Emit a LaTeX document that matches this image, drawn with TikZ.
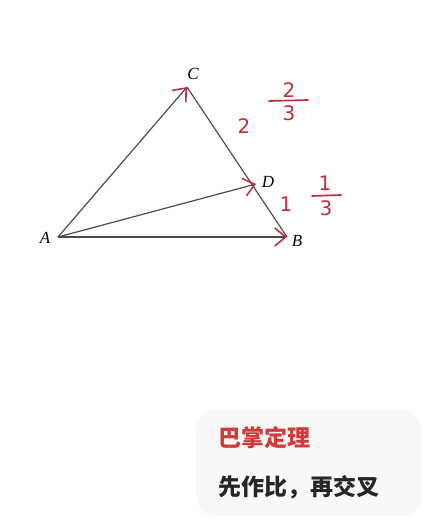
\documentclass[tikz,border=0pt]{standalone}
\usepackage{fontspec}
\setmainfont{Liberation Serif}
\setsansfont{DejaVu Sans}
\newfontfamily\cjk{Noto Sans CJK SC}
\usetikzlibrary{arrows.meta}
\definecolor{penred}{HTML}{C0303A}
\definecolor{titlered}{HTML}{D03A3A}
\definecolor{boxgray}{HTML}{F7F8F7}
\tikzset{
  edge/.style = {draw=black!70, line width=1.2pt},
  vec/.style  = {edge, -{Straight Barb[color=penred, length=11pt, width=18pt, line width=1.6pt]}},
  vlabel/.style = {font=\itshape\fontsize{17}{17}\selectfont, inner sep=0pt},
  hand/.style = {text=penred, font=\fontsize{20}{20}\selectfont\sffamily, inner sep=0pt},
  fracbar/.style = {draw=penred, line width=1.7pt, line cap=round},
}
\begin{document}
\begin{tikzpicture}[x=1pt, y=-1pt]
  \useasboundingbox (0,0) rectangle (424,524);
  % triangle points
  \coordinate (A) at (58,237);
  \coordinate (B) at (287,237);
  \coordinate (C) at (187,87);
  \coordinate (D) at (256,184);
  \draw[edge] (C) -- (B);
  \draw[vec] (A) -- (C);
  \draw[vec] (A) -- (D);
  \draw[vec] (A) -- (B);
  % vertex letters
  \node[vlabel] (labA) at (45,238) {A};
  \node[vlabel] (labB) at (297,241) {B};
  \node[vlabel] (labC) at (193,74) {C};
  \node[vlabel] (labD) at (268,182) {D};
  % handwritten ratios
  \node[hand] (two) at (244,126) {2};
  \node[hand] (one) at (286,204) {1};
  \node[hand] (num2) at (289,90) {2};
  \draw[fracbar] (269,101) coordinate (bar2l) -- (308,100) coordinate (bar2r);
  \node[hand] (den3) at (289,113) {3};
  \node[hand] (num1) at (325,183) {1};
  \draw[fracbar] (312,196) coordinate (bar1l) -- (341,195) coordinate (bar1r);
  \node[hand] (den3b) at (326,208) {3};
  % note box
  \node[fill=boxgray, rounded corners=20pt, minimum width=225pt, minimum height=106pt,
        anchor=north west] (note) at (196,410) {};
  \node[anchor=west, text=titlered, font=\cjk\bfseries\fontsize{23}{23}\selectfont, inner sep=0pt]
    (title) at (218,438) {巴掌定理};
  \node[anchor=west, text=black!85, font=\cjk\bfseries\fontsize{23}{23}\selectfont, inner sep=0pt]
    (rule) at (218,487) {先作比，再交叉};
\end{tikzpicture}
\end{document}
